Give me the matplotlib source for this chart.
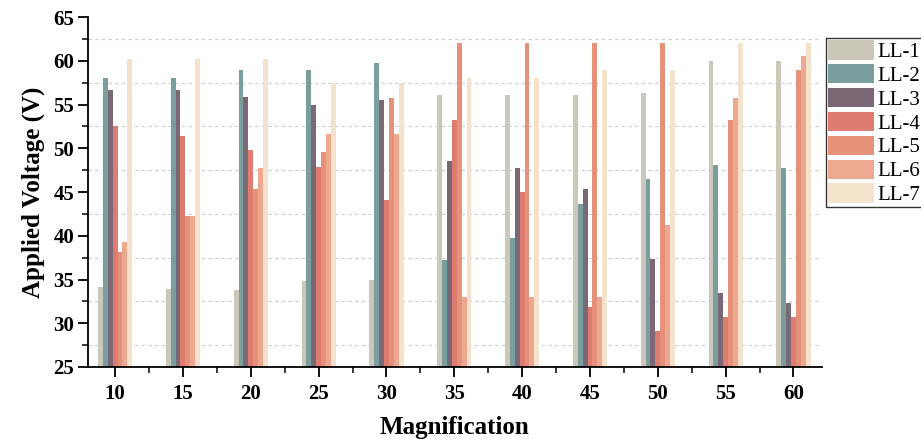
import matplotlib
matplotlib.use('Agg')
import matplotlib.pyplot as plt
from matplotlib.ticker import MultipleLocator
import numpy as np

plt.rcParams['font.family'] = ['Liberation Serif', 'DejaVu Serif']

magnification = [10, 15, 20, 25, 30, 35, 40, 45, 50, 55, 60]
series_names = ['LL-1', 'LL-2', 'LL-3', 'LL-4', 'LL-5', 'LL-6', 'LL-7']
ll1 = [34.2, 33.9, 33.8, 34.8, 35.0, 56.1, 56.1, 56.1, 56.3, 60.0, 60.0]
ll2 = [58.1, 58.0, 59.0, 59.0, 59.8, 37.2, 39.7, 43.6, 46.5, 48.1, 47.7]
ll3 = [56.7, 56.7, 55.9, 54.9, 55.5, 48.5, 47.8, 45.4, 37.4, 33.5, 32.3]
ll4 = [52.6, 51.4, 49.8, 47.9, 44.1, 53.2, 45.0, 31.9, 29.1, 30.7, 30.7]
ll5 = [38.1, 42.3, 45.4, 49.6, 55.7, 62.0, 62.0, 62.0, 62.0, 53.2, 59.0]
ll6 = [39.3, 42.3, 47.8, 51.6, 51.6, 33.0, 33.0, 33.0, 41.2, 55.7, 60.6]
ll7 = [60.2, 60.2, 60.2, 57.5, 57.5, 58.0, 58.0, 59.0, 59.0, 62.0, 62.0]
series = [ll1, ll2, ll3, ll4, ll5, ll6, ll7]
colors = ['#CBC8BA', '#7A9D9E', '#7B6877', '#DE7C70', '#E69179', '#EDA88F', '#F3E2CC']

fig = plt.figure(figsize=(9.21, 4.4), dpi=100)
ax = fig.add_axes([0.0955, 0.166, 0.797, 0.795])

x = np.array(magnification, dtype=float)
w = 0.36
for i, (vals, name, col) in enumerate(zip(series, series_names, colors)):
    ax.bar(x + (i - 3) * w, np.array(vals) - 25, w, bottom=25, color=col,
           label=name, zorder=2, linewidth=0)

ax.set_xlim(8.0, 62.1)
ax.set_ylim(25, 65)
ax.xaxis.set_major_locator(MultipleLocator(5))
ax.xaxis.set_minor_locator(MultipleLocator(2.5))
ax.yaxis.set_major_locator(MultipleLocator(5))
ax.yaxis.set_minor_locator(MultipleLocator(2.5))
ax.set_xticks(magnification)
ax.grid(True, which='minor', axis='y', linestyle=(0, (3, 3)), color='#cccccc', linewidth=0.8, zorder=0)
ax.grid(False, which='major')

for s in ['top', 'right']:
    ax.spines[s].set_visible(False)
for s in ['left', 'bottom']:
    ax.spines[s].set_linewidth(1.3)

ax.tick_params(which='major', direction='out', length=7, width=1.3, labelsize=15)
ax.tick_params(which='minor', direction='out', length=4.5, width=1.1)
ax.tick_params(axis='x', which='major', pad=5)
ax.tick_params(axis='y', which='major', pad=3)
for lab in ax.get_xticklabels() + ax.get_yticklabels():
    lab.set_fontweight('bold')

ax.set_xlabel('Magnification', fontsize=18, fontweight='bold', labelpad=9)
ax.set_ylabel('Applied Voltage (V)', fontsize=18, fontweight='bold', labelpad=6)

leg = ax.legend(loc='upper left', bbox_to_anchor=(1.005, 0.94), fontsize=15,
                handlelength=2.2, handleheight=1.05, labelspacing=0.1,
                handletextpad=0.2, borderpad=0.1, borderaxespad=0.0,
                fancybox=False, edgecolor='#333333', framealpha=1)
leg.get_frame().set_linewidth(1.0)

fig.savefig('out.png', dpi=100)
